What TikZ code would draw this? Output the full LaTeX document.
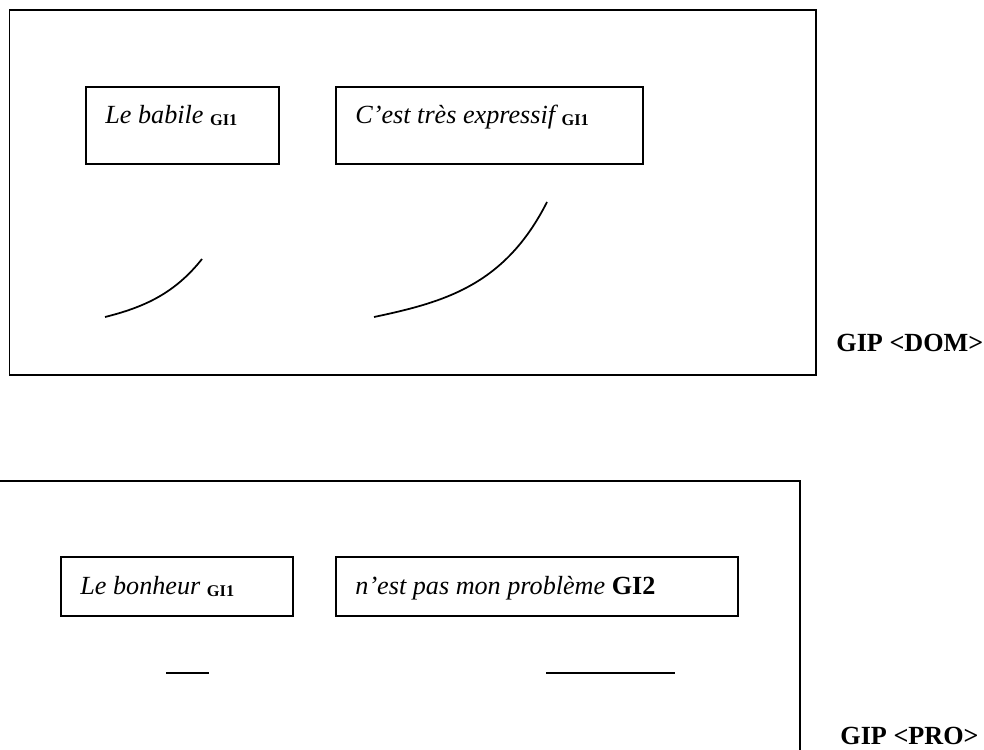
\documentclass[tikz,border=0pt]{standalone}
\usepackage{fontspec}
\setmainfont{Liberation Serif}
\usetikzlibrary{positioning,fit,calc}
\newcommand{\gisub}[1]{\raisebox{-1pt}{\fontsize{7.5}{8}\selectfont\bfseries\upshape #1}}
\begin{document}
\begin{tikzpicture}[x=0.4585pt,y=-0.4585pt,
    frame/.style = {draw,line width=0.8pt,inner sep=0pt,outer sep=0pt},
    txt/.style = {inner sep=0pt,anchor=base west,font=\fontsize{12}{14}\selectfont\itshape},
    gip/.style = {inner sep=0pt,anchor=base west,font=\fontsize{12}{14}\selectfont\bfseries},
    stroke/.style = {line width=0.8pt}]
    \clip (0,0) rectangle (984,749);

    % upper frame
    \node[frame,fit={(9.5,10) (816,375)}] (dom) {};
    \node[frame,fit={(86,87) (279,164)}] (b1) {};
    \node[frame,fit={(336,87) (643,164)}] (b2) {};
    \node[txt] (t1) at ($(b1.north west)+(19,36)$) {Le babile \gisub{GI1}};
    \node[txt] (t2) at ($(b2.north west)+(19,36)$) {C’est très expressif \gisub{GI1}};
    \node[gip] (ldom) at (836,351) {GIP <DOM>};

    \coordinate (c1a) at (105,317);
    \coordinate (c1b) at (202,259);
    \coordinate (c2a) at (374,317);
    \coordinate (c2b) at (547,202);
    \draw[stroke] (c1a) .. controls (145,307) and (175,293) .. (c1b);
    \draw[stroke] (c2a) .. controls (445,302) and (505,285) .. (c2b);

    % lower frame
    \node[frame,fit={(-10,481) (800,780)}] (pro) {};
    \node[frame,fit={(61,557) (293,616)}] (b3) {};
    \node[frame,fit={(336,557) (738,616)}] (b4) {};
    \node[txt] (t3) at ($(b3.north west)+(19,37)$) {Le bonheur \gisub{GI1}};
    \node[txt] (t4) at ($(b4.north west)+(19,37)$) {n’est pas mon problème \textbf{\upshape GI2}};
    \node[gip] (lpro) at (840,744) {GIP <PRO>};

    \coordinate (s1a) at (166,673);
    \coordinate (s1b) at (209,673);
    \coordinate (s2a) at (546,673);
    \coordinate (s2b) at (675,673);
    \draw[stroke] (s1a) -- (s1b);
    \draw[stroke] (s2a) -- (s2b);
\end{tikzpicture}
\end{document}
